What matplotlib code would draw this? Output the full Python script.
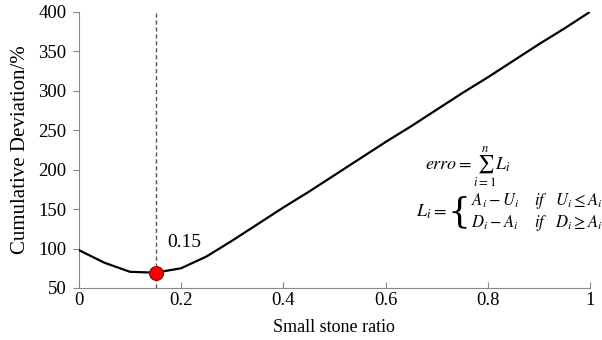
import matplotlib.pyplot as plt

plt.rcParams['font.family'] = ['Liberation Serif', 'DejaVu Serif']
plt.rcParams['mathtext.fontset'] = 'stix'

# data
ratio = [0, 0.05, 0.1, 0.15, 0.2, 0.25, 0.3, 0.35, 0.4, 0.45, 0.5, 0.55, 0.6,
         0.65, 0.7, 0.75, 0.8, 0.85, 0.9, 0.95, 1.0]
deviation = [98, 82, 70.5, 69.4, 75, 90, 110, 131, 152, 172, 193, 214, 235,
             255, 276, 297, 317, 338, 359, 379, 400]
best_ratio = 0.15
best_dev = 69.4
x_ticks = [0, 0.2, 0.4, 0.6, 0.8, 1]
x_tick_labels = ['0', '0.2', '0.4', '0.6', '0.8', '1']
y_ticks = [50, 100, 150, 200, 250, 300, 350, 400]

fig = plt.figure(figsize=(6.02, 3.40), dpi=100)
ax = fig.add_axes([0.131, 0.153, 0.849, 0.812])

ax.plot(ratio, deviation, color='black', lw=1.6, zorder=3)
ax.axvline(best_ratio, color='#555555', ls=(0, (3, 2)), lw=1.0, zorder=2)
ax.plot([best_ratio], [best_dev], 'o', ms=10, color='#ff0000',
        mec='#990000', mew=0.8, zorder=4)
ax.text(0.172, 108, '0.15', fontsize=14, ha='left', va='center')

# formula
ax.text(0.677, 204, r'$erro=\sum_{i=1}^{n}L_i$', fontsize=13, ha='left', va='center')
ax.text(0.660, 146, r'$L_i=$', fontsize=13, ha='left', va='center')
ax.text(0.766, 146, '{', fontsize=26, ha='right', va='center',
        family=['DejaVu Serif'], fontweight='light')
ax.text(0.768, 160, r'$A_i-U_i$', fontsize=12, ha='left', va='center')
ax.text(0.768, 132, r'$D_i-A_i$', fontsize=12, ha='left', va='center')
ax.text(0.890, 160, r'$if\quad U_i\leq A_i$', fontsize=12, ha='left', va='center')
ax.text(0.890, 132, r'$if\quad D_i\geq A_i$', fontsize=12, ha='left', va='center')

ax.set_xlim(0, 1)
ax.set_ylim(50, 400)
ax.set_xticks(x_ticks)
ax.set_xticklabels(x_tick_labels)
ax.set_yticks(y_ticks)

for s in ['top', 'right']:
    ax.spines[s].set_visible(False)
for s in ['left', 'bottom']:
    ax.spines[s].set_color('#888888')
ax.tick_params(axis='x', direction='in', length=4, color='#888888',
               labelsize=13.5, pad=3)
ax.tick_params(axis='y', direction='out', length=4, color='#888888',
               labelsize=13.5, pad=5)

ax.set_xlabel('Small stone ratio', fontsize=13, labelpad=7)
ax.set_ylabel('Cumulative Deviation/%', fontsize=15, labelpad=6)

fig.savefig('out.png', dpi=100)
